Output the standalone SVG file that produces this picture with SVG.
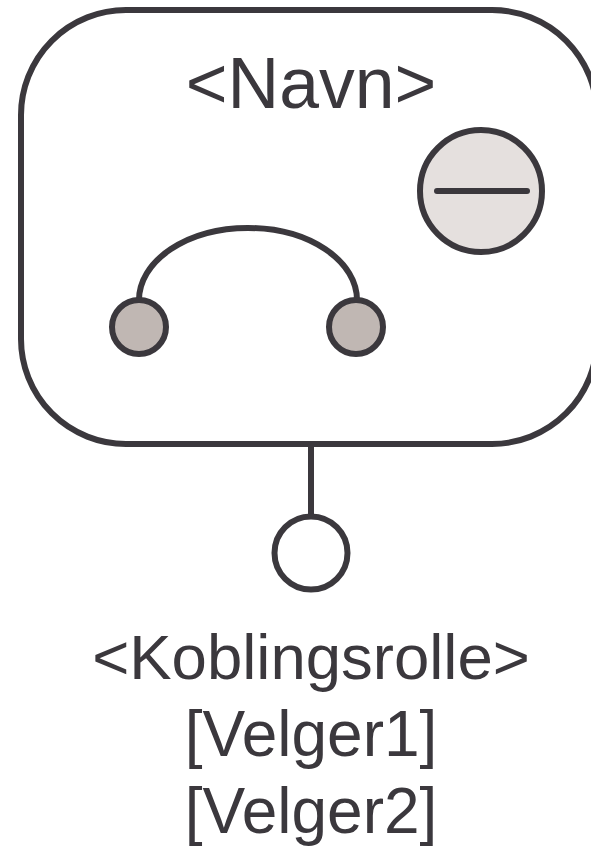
<svg xmlns="http://www.w3.org/2000/svg" width="591" height="849" viewBox="0 0 591 849">
<style>
.l{fill:none;stroke:#3b383d;stroke-width:6;stroke-linecap:round}
.b{stroke-linecap:butt}
.t{font-family:"Liberation Sans",Arial,sans-serif;fill:#3b383d;text-anchor:middle}
.n{stroke:#3b383d;stroke-width:6}
</style>
<rect width="591" height="849" fill="#fff"/>
<g id="connectors">
<path class="l b" d="M311 444V517"/>
<path class="l b" d="M139 300A109 72 0 0 1 357 300"/>
</g>
<g id="component">
<rect class="l" x="21" y="10" width="576" height="434" rx="105" ry="105"/>
<text class="t" x="311" y="108" font-size="71.5">&lt;Navn&gt;</text>
</g>
<g id="minus">
<circle class="n" cx="481" cy="191" r="61" fill="#e5e0de"/>
<path class="l" d="M437 191H527"/>
</g>
<g id="port-left"><circle class="n" cx="139" cy="327" r="27" fill="#c0b7b3"/></g>
<g id="port-right"><circle class="n" cx="356" cy="327" r="27" fill="#c0b7b3"/></g>
<g id="role">
<circle class="n" cx="311" cy="553" r="36.500" fill="#fff"/>
<text class="t" x="311" y="679" font-size="63.500">&lt;Koblingsrolle&gt;</text>
<text class="t" x="311" y="756" font-size="64">[Velger1]</text>
<text class="t" x="311" y="833" font-size="64">[Velger2]</text>
</g>
</svg>
